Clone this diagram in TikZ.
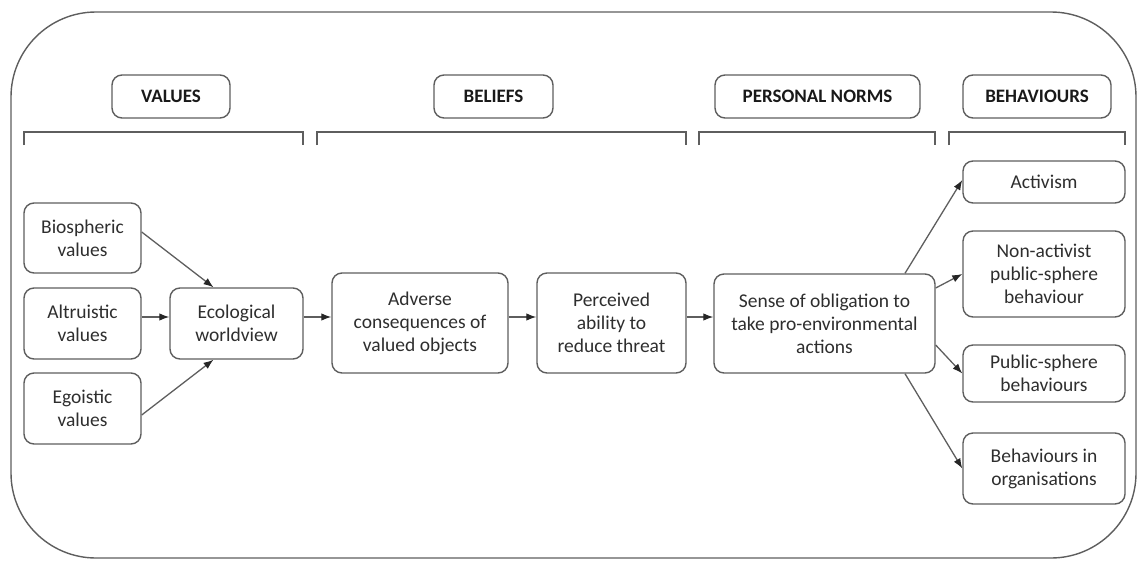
\documentclass[tikz,border=0pt]{standalone}
\usepackage{fontspec}
\setmainfont{Carlito}
\usetikzlibrary{arrows.meta,calc}
\definecolor{linegray}{HTML}{5E5E5E}
\definecolor{textgray}{HTML}{2E2E2E}
\begin{document}
\begin{tikzpicture}[x=1pt,y=-1pt,
  box/.style={draw=linegray,line width=1.4pt,rounded corners=10pt,align=center,
    text=textgray,font=\fontsize{19.5}{23}\selectfont,inner sep=0pt},
  head/.style={box,font=\fontsize{19}{23}\selectfont\bfseries,text=black!90},
  arr/.style={draw=linegray,line width=1.3pt,-{Latex[length=10pt,width=7.5pt,color=black!85]}},
  brk/.style={draw=linegray,line width=1.4pt}]
\useasboundingbox (0,0) rectangle (1137,560);
\draw[linegray,line width=1.4pt,rounded corners=85pt] (11,12) rectangle (1136,558);

% headers
\node[head,minimum width=118pt,minimum height=43pt] (hval) at (171,96.5) {VALUES};
\node[head,minimum width=119pt,minimum height=43pt] (hbel) at (493.5,96.5) {BELIEFS};
\node[head,minimum width=205pt,minimum height=43pt] (hpn) at (817.5,96.5) {PERSONAL NORMS};
\node[head,minimum width=148pt,minimum height=43pt] (hbeh) at (1037,96.5) {BEHAVIOURS};

% brackets
\draw[brk] (24,145) -- (24,132) -- (303,132) -- (303,145);
\draw[brk] (317,145) -- (317,132) -- (686,132) -- (686,145);
\draw[brk] (699,145) -- (699,132) -- (935,132) -- (935,145);
\draw[brk] (949,145) -- (949,132) -- (1125,132) -- (1125,145);

% boxes
\node[box,minimum width=117pt,minimum height=70pt] (bio) at (82.5,238) {Biospheric\\values};
\node[box,minimum width=117pt,minimum height=71pt] (alt) at (82.5,323.5) {Altruistic\\values};
\node[box,minimum width=117pt,minimum height=71pt] (ego) at (82.5,408.5) {Egoistic\\values};
\node[box,minimum width=133pt,minimum height=71pt] (eco) at (236.5,323.5) {Ecological\\worldview};
\node[box,minimum width=176pt,minimum height=100pt] (adv) at (420,323) {Adverse\\consequences of\\valued objects};
\node[box,minimum width=149pt,minimum height=100pt] (per) at (611.5,323) {Perceived\\ability to\\reduce threat};
\node[box,minimum width=221pt,minimum height=99pt] (sen) at (824.5,323.5) {Sense of obligation to\\take pro-environmental\\actions};
\node[box,minimum width=162pt,minimum height=42pt] (act) at (1044,182) {Activism};
\node[box,minimum width=162pt,minimum height=86pt] (non) at (1044,274) {Non-activist\\public-sphere\\behaviour};
\node[box,minimum width=162pt,minimum height=57pt] (pub) at (1044,373.5) {Public-sphere\\behaviours};
\node[box,minimum width=162pt,minimum height=71pt] (org) at (1044,468.5) {Behaviours in\\organisations};

% arrows
\draw[arr] ($(bio.east)+(0,-6)$) -- ($(eco.north)+(-23,0)$);
\draw[arr] ($(alt.east)+(0,-6.5)$) -- ($(eco.west)+(0,-6.5)$);
\draw[arr] ($(ego.east)+(0,6.5)$) -- ($(eco.south)+(-23,0)$);
\draw[arr] ($(eco.east)+(0,-6.5)$) -- ($(adv.west)+(0,-6)$);
\draw[arr] ($(adv.east)+(0,-6)$) -- ($(per.west)+(0,-6)$);
\draw[arr] ($(per.east)+(0,-6)$) -- ($(sen.west)+(0,-6.5)$);
\draw[arr] ($(sen.north)+(80.5,0)$) -- ($(act.west)+(0,-2)$);
\draw[arr] ($(sen.east)+(0,-35.5)$) -- (non.west);
\draw[arr] ($(sen.east)+(0,21.5)$) -- (pub.west);
\draw[arr] ($(sen.south)+(80.5,0)$) -- (org.west);
\end{tikzpicture}
\end{document}
